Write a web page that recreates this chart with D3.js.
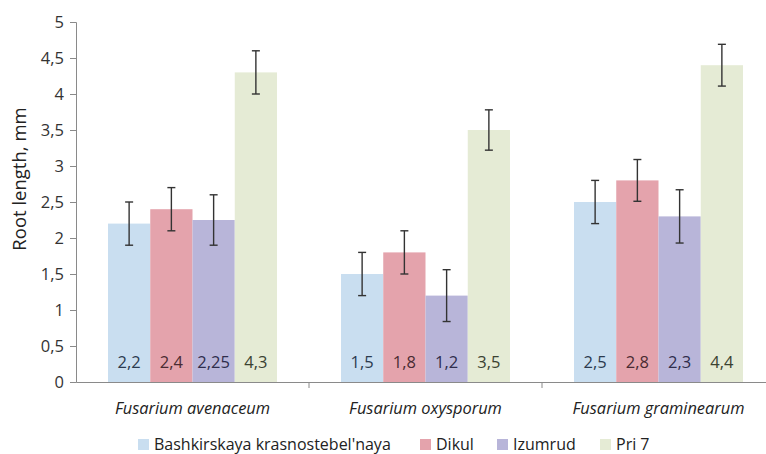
<!DOCTYPE html>
<html><head><meta charset="utf-8">
<script src="https://cdn.jsdelivr.net/npm/d3@7"></script>
<style>html,body{margin:0;padding:0;background:#fff;} svg{display:block;}</style>
</head><body>
<svg id="c" width="766" height="454"></svg>
<script>
const categories = ["Fusarium avenaceum", "Fusarium oxysporum", "Fusarium graminearum"];
const seriesNames = ["Bashkirskaya krasnostebel'naya", "Dikul", "Izumrud", "Pri 7"];
const values = [
  [2.2, 2.4, 2.25, 4.3],
  [1.5, 1.8, 1.2, 3.5],
  [2.5, 2.8, 2.3, 4.4]
];
const errors = [
  [0.3, 0.3, 0.35, 0.3],
  [0.3, 0.3, 0.36, 0.28],
  [0.3, 0.29, 0.37, 0.29]
];
const labels = [
  ["2,2", "2,4", "2,25", "4,3"],
  ["1,5", "1,8", "1,2", "3,5"],
  ["2,5", "2,8", "2,3", "4,4"]
];
const yTicks = [0, 0.5, 1, 1.5, 2, 2.5, 3, 3.5, 4, 4.5, 5];
const yTickLabels = ["0", "0,5", "1", "1,5", "2", "2,5", "3", "3,5", "4", "4,5", "5"];
const colors = ["#c9def0", "#e4a3ac", "#b8b5d9", "#e5ebd5"];
const labelColors = ["#2c3b4f", "#4a2b32", "#2f2d4c", "#3b4232"];

const svg = d3.select("#c");
const x0 = 76, x1 = 775, yTop = 22, yBot = 382;
const font = "'Open Sans', sans-serif";

const x = d3.scaleBand().domain(categories).range([x0, x1]).paddingInner(0).paddingOuter(0);
const y = d3.scaleLinear().domain([0, 5]).range([yBot, yTop]);
const inner = d3.scaleBand().domain(d3.range(4)).range([0, 169]);
const groupOffset = (x.bandwidth() - 169) / 2;

// y axis
const yAxis = svg.append("g").attr("transform", `translate(${x0},0)`)
  .call(d3.axisLeft(y).tickValues(yTicks).tickFormat((d, i) => yTickLabels[i]).tickSize(6).tickPadding(6));
yAxis.select(".domain").attr("stroke", "#8a8a8a");
yAxis.selectAll(".tick line").attr("stroke", "#8a8a8a");
yAxis.selectAll("text").attr("font-family", font).attr("font-size", 16.5).attr("fill", "#333");

// bars
const groups = svg.append("g").selectAll("g").data(categories).join("g")
  .attr("transform", d => `translate(${x(d) + groupOffset},0)`);
groups.each(function(cat, ci) {
  const g = d3.select(this);
  values[ci].forEach((v, si) => {
    const bx = inner(si), bw = inner.bandwidth();
    g.append("rect").attr("x", bx).attr("width", bw)
      .attr("y", y(v)).attr("height", y(0) - y(v)).attr("fill", colors[si]);
    const cx = bx + bw / 2;
    const e = errors[ci][si];
    g.append("line").attr("x1", cx).attr("x2", cx).attr("y1", y(v + e)).attr("y2", y(v - e))
      .attr("stroke", "#333").attr("stroke-width", 1.4);
    [v + e, v - e].forEach(t => {
      g.append("line").attr("x1", cx - 4).attr("x2", cx + 4).attr("y1", y(t)).attr("y2", y(t))
        .attr("stroke", "#333").attr("stroke-width", 1.4);
    });
    g.append("text").attr("x", cx).attr("y", 368).attr("text-anchor", "middle")
      .attr("font-family", font).attr("font-size", 16.5).attr("fill", labelColors[si])
      .text(labels[ci][si]);
  });
});

// x axis
const xAxis = svg.append("g").attr("transform", `translate(0,${yBot})`)
  .call(d3.axisBottom(x).tickSize(0).tickFormat(""));
xAxis.select(".domain").attr("stroke", "#8a8a8a");
xAxis.selectAll(".tick").remove();
svg.append("g").selectAll("line").data(categories.slice(1)).join("line")
  .attr("x1", d => x(d)).attr("x2", d => x(d)).attr("y1", yBot).attr("y2", yBot + 6)
  .attr("stroke", "#8a8a8a");
svg.append("g").selectAll("text").data(categories).join("text")
  .attr("x", d => x(d) + x.bandwidth() / 2).attr("y", 414).attr("text-anchor", "middle")
  .attr("font-family", font).attr("font-size", 16.4).attr("font-style", "italic").attr("fill", "#222")
  .text(d => d);

// y title
svg.append("text").attr("transform", "translate(26,179) rotate(-90)").attr("text-anchor", "middle")
  .attr("font-family", font).attr("font-size", 18.5).attr("fill", "#222").text("Root length, mm");

// legend
const legX = [138, 420, 497, 600];
const leg = svg.append("g").selectAll("g").data(seriesNames).join("g")
  .attr("transform", (d, i) => `translate(${legX[i]},439)`);
leg.append("rect").attr("width", 11).attr("height", 11).attr("fill", (d, i) => colors[i]);
leg.append("text").attr("x", 16).attr("y", 11).attr("font-family", font).attr("font-size", 16)
  .attr("fill", "#222").text(d => d);
</script>
</body></html>
